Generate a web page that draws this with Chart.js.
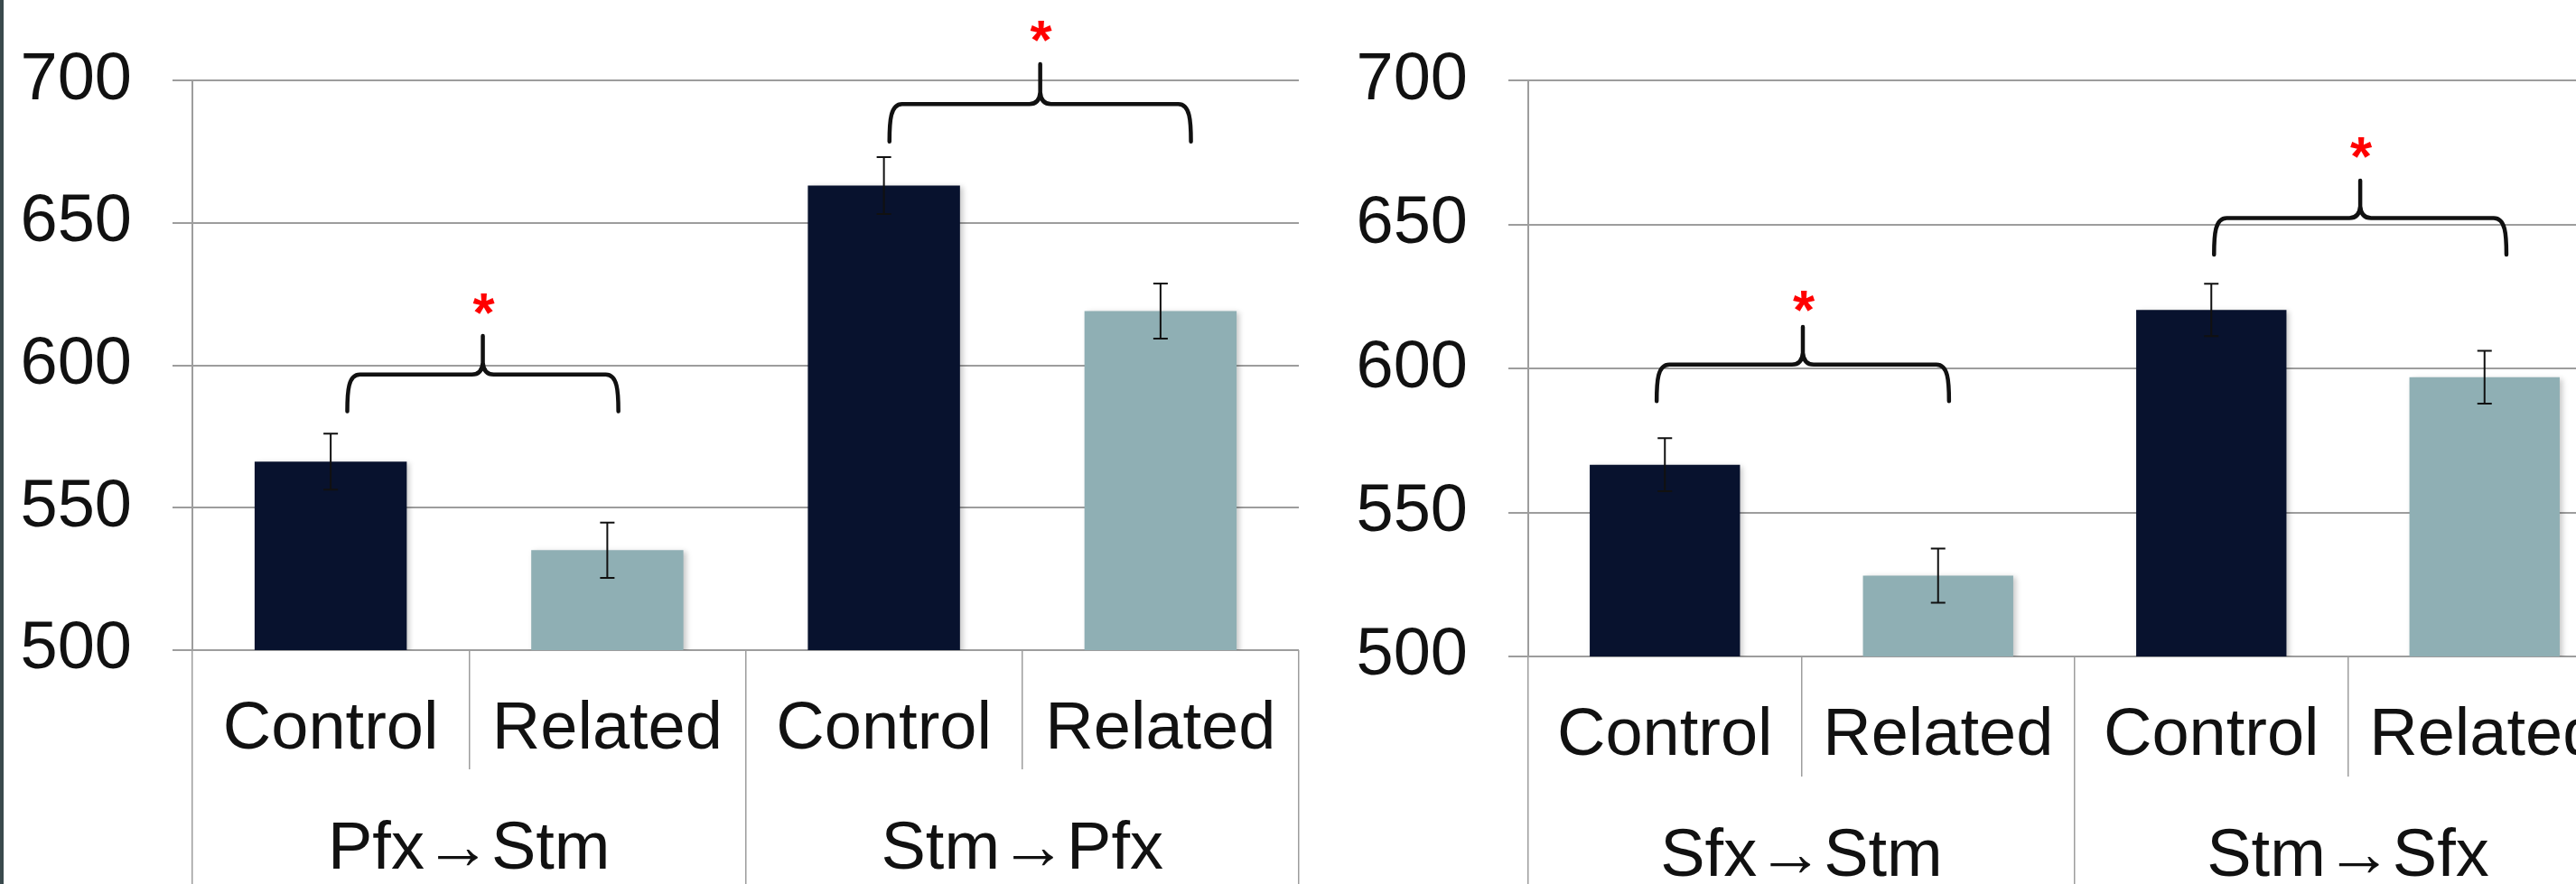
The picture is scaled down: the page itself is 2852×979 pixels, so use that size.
<!DOCTYPE html>
<html>
<head>
<meta charset="utf-8">
<script src="https://cdn.jsdelivr.net/npm/chart.js@4.4.1/dist/chart.umd.min.js"></script>
<style>
  html, body { margin: 0; padding: 0; background: #fff; }
  body { width: 2852px; height: 979px; overflow: hidden; position: relative; }
  .panel { position: absolute; top: 0; width: 1478px; height: 979px; }
  #edge { position: absolute; left: 0; top: 0; width: 4px; height: 979px; background: #3a4a4d; z-index: 2; }
</style>
</head>
<body>
<div id="edge"></div>
<div class="panel" style="left:0px"><canvas id="leftChart"></canvas></div>
<div class="panel" style="left:1478px"><canvas id="rightChart"></canvas></div>
<script>
// values (reaction times)
var conditions = ['Control', 'Related', 'Control', 'Related'];
var yMin = 500, yMax = 700, yStep = 50;

var leftGroups = ['Pfx→Stm', 'Stm→Pfx'];
var leftValues = [566.2, 535.1, 663.2, 619.1];
var leftErrors = [9.8, 9.7, 10.0, 9.7];

var rightGroups = ['Sfx→Stm', 'Stm→Sfx'];
var rightValues = [566.6, 528.1, 620.4, 597.0];
var rightErrors = [9.2, 9.4, 9.1, 9.2];

// significance braces: category index span and value levels
var leftBraceFrom = [0.06, 2.02];
var leftBraceTo = [1.04, 3.11];
var leftBraceLevel = [596.8, 691.8];
var leftBraceTip = [583.9, 678.6];
var leftBracePeak = [610.4, 705.8];
var leftStar = [620.5, 716.5];

var rightBraceFrom = [-0.03, 2.01];
var rightBraceTo = [1.04, 3.08];
var rightBraceLevel = [601.4, 652.3];
var rightBraceTip = [588.7, 639.6];
var rightBracePeak = [614.5, 665.3];
var rightStar = [622.5, 675.8];

var FONT = '"Liberation Sans", Arial, Helvetica, sans-serif';
var GRID = '#9d9d9d';
var TEXT = '#111111';
var barColors = { Control: '#08122e', Related: '#8fafb4' };

var shadowPlugin = {
    id: 'barShadow',
    beforeDatasetDraw: function(chart){
        var ctx = chart.ctx;
        ctx.save();
        ctx.shadowColor = 'rgba(0,0,0,0.22)';
        ctx.shadowBlur = 6;
        ctx.shadowOffsetX = 3;
        ctx.shadowOffsetY = 2;
    },
    afterDatasetDraw: function(chart){
        chart.ctx.restore();
    }
};

var marksPlugin = {
    id: 'marks',
    afterDatasetsDraw: function(chart, args, opts){
        var ctx = chart.ctx;
        var xs = chart.scales.x, ys = chart.scales.y;
        var meta = chart.getDatasetMeta(0);
        var i, bar, top, bottom;

        // error bars
        ctx.save();
        ctx.strokeStyle = '#111';
        ctx.lineWidth = 2;
        for(i = 0; i < opts.errors.length; i++){
            bar = meta.data[i];
            top = ys.getPixelForValue(opts.values[i] + opts.errors[i]);
            bottom = ys.getPixelForValue(opts.values[i] - opts.errors[i]);
            ctx.beginPath();
            ctx.moveTo(bar.x, top); ctx.lineTo(bar.x, bottom);
            ctx.moveTo(bar.x - 8, top); ctx.lineTo(bar.x + 8, top);
            ctx.moveTo(bar.x - 8, bottom); ctx.lineTo(bar.x + 8, bottom);
            ctx.stroke();
        }
        ctx.restore();

        // braces and stars
        ctx.save();
        ctx.strokeStyle = '#111';
        ctx.lineWidth = 4.5;
        ctx.lineCap = 'round';
        ctx.lineJoin = 'round';
        for(i = 0; i < opts.from.length; i++){
            var x0 = xs.getPixelForValue(opts.from[i]);
            var x1 = xs.getPixelForValue(opts.to[i]);
            var xm = (x0 + x1) / 2;
            var yh = ys.getPixelForValue(opts.level[i]);
            var yt = ys.getPixelForValue(opts.tip[i]);
            var yp = ys.getPixelForValue(opts.peak[i]);
            var drop = yt - yh;
            ctx.beginPath();
            ctx.moveTo(x0, yt);
            ctx.bezierCurveTo(x0, yt - drop * 0.55, x0 + 1, yh, x0 + 14, yh);
            ctx.lineTo(xm - 12, yh);
            ctx.quadraticCurveTo(xm - 1, yh, xm, yh - 13);
            ctx.lineTo(xm, yp);
            ctx.lineTo(xm, yh - 13);
            ctx.quadraticCurveTo(xm + 1, yh, xm + 12, yh);
            ctx.lineTo(x1 - 14, yh);
            ctx.bezierCurveTo(x1 - 1, yh, x1, yt - drop * 0.55, x1, yt);
            ctx.stroke();

            var size = 62;
            ctx.fillStyle = '#ff0000';
            ctx.font = 'bold ' + size + 'px ' + FONT;
            ctx.textAlign = 'center';
            ctx.textBaseline = 'alphabetic';
            ctx.fillText('*', xm + 1, ys.getPixelForValue(opts.star[i]) + size * 0.44);
        }
        ctx.restore();
    }
};

function makePanel(canvasId, groups, values, errors, braces, lay){
    var ctx = document.getElementById(canvasId).getContext('2d');
    var colors = [];
    for(var i = 0; i < conditions.length; i++){
        colors.push(barColors[conditions[i]]);
    }
    return new Chart(ctx, {
        type: 'bar',
        data: {
            labels: conditions,
            datasets: [{
                data: values,
                backgroundColor: colors,
                borderWidth: 0,
                barPercentage: 0.55,
                categoryPercentage: 1.0
            }]
        },
        options: {
            responsive: true,
            maintainAspectRatio: false,
            animation: false,
            events: [],
            layout: { padding: { top: 84, right: lay.padRight, bottom: 0, left: 0 } },
            plugins: {
                legend: { display: false },
                tooltip: { enabled: false },
                marks: {
                    values: values, errors: errors,
                    from: braces.from, to: braces.to, level: braces.level,
                    tip: braces.tip, peak: braces.peak, star: braces.star
                }
            },
            scales: {
                y: {
                    min: yMin, max: yMax,
                    ticks: { stepSize: yStep, padding: 45, color: TEXT, font: { family: FONT, size: 74 } },
                    grid: { color: GRID, lineWidth: 2, tickLength: 22 },
                    border: { display: true, color: GRID, width: 2 },
                    afterFit: function(scale){ scale.width = lay.yWidth; }
                },
                x: {
                    weight: 0,
                    offset: true,
                    ticks: { autoSkip: false, maxRotation: 0, padding: lay.xPad, color: TEXT, font: { family: FONT, size: 74 } },
                    grid: { offset: true, drawOnChartArea: false, tickLength: lay.xH, color: GRID, lineWidth: 1.5 },
                    border: { display: false },
                    afterFit: function(scale){ scale.height = lay.xH; }
                },
                x2: {
                    type: 'category',
                    position: 'bottom',
                    weight: 1,
                    labels: groups,
                    offset: true,
                    ticks: { autoSkip: false, maxRotation: 0, padding: lay.x2Pad, color: TEXT, font: { family: FONT, size: 74 } },
                    grid: { offset: true, drawOnChartArea: false, tickLength: lay.x2H, color: GRID, lineWidth: 1.5 },
                    border: { display: false },
                    afterFit: function(scale){ scale.height = lay.x2H; }
                }
            }
        },
        plugins: [shadowPlugin, marksPlugin]
    });
}

makePanel('leftChart', leftGroups, leftValues, leftErrors, {
    from: leftBraceFrom, to: leftBraceTo, level: leftBraceLevel,
    tip: leftBraceTip, peak: leftBracePeak, star: leftStar
}, { yWidth: 213, padRight: 40, xH: 132, x2H: 127, xPad: -87.4, x2Pad: -81.4 });

makePanel('rightChart', rightGroups, rightValues, rightErrors, {
    from: rightBraceFrom, to: rightBraceTo, level: rightBraceLevel,
    tip: rightBraceTip, peak: rightBracePeak, star: rightStar
}, { yWidth: 214, padRight: 54, xH: 133, x2H: 119, xPad: -88.4, x2Pad: -73.4 });
</script>
</body>
</html>
